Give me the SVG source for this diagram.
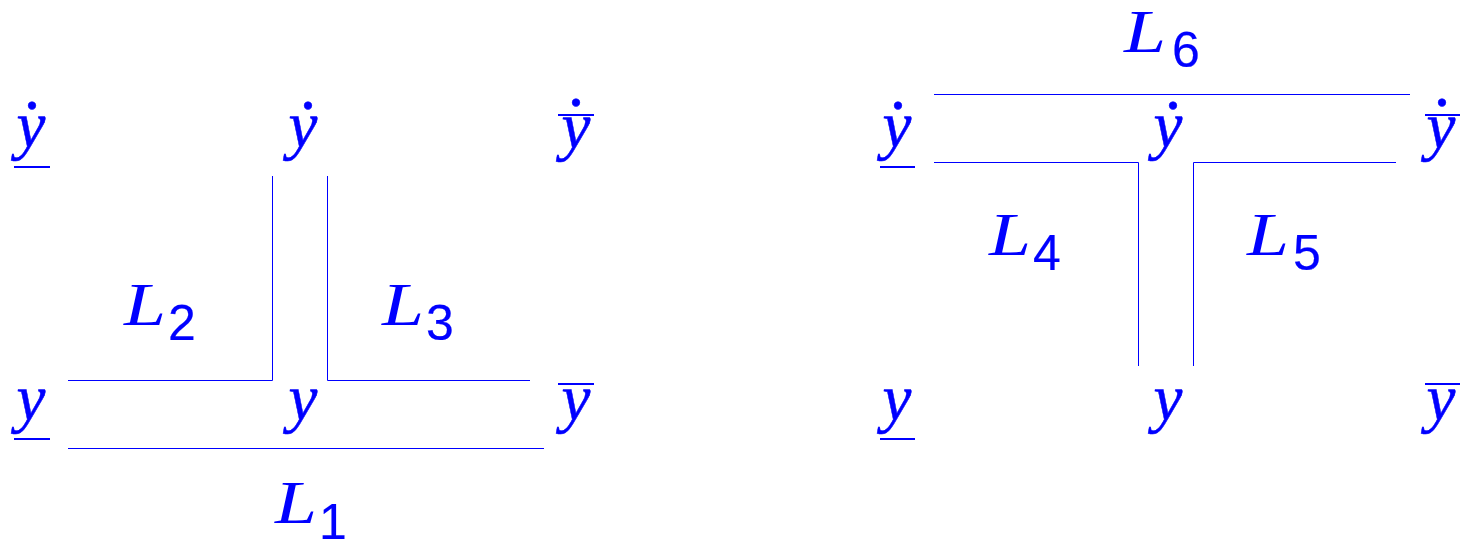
<svg xmlns="http://www.w3.org/2000/svg" width="1461" height="543" viewBox="0 0 1461 543">
<style>
.v{font-family:"Liberation Serif",serif;font-style:italic;font-size:65px;fill:#0000ff;stroke:#0000ff;stroke-width:0.5;text-anchor:middle}
.dd{font-style:normal;font-size:66px;stroke-width:0.5}
.L{font-family:"Liberation Serif",serif;font-style:italic;font-size:61px;fill:#0000ff}
.n{font-family:"Liberation Sans",sans-serif;font-size:50px;fill:#0000ff;stroke:#0000ff;stroke-width:0.2}
.r{stroke:#0000ff;stroke-width:2.2}
.c{stroke:#0000ff;stroke-width:1;fill:none}
</style>
<rect width="1461" height="543" fill="#ffffff"/>
<g id="connectors">
<polyline class="c" points="68,380.5 272.5,380.5 272.5,176"/>
<polyline class="c" points="327.5,176 327.5,380.5 530,380.5"/>
<line class="c" x1="68" y1="448.5" x2="544" y2="448.5"/>
<line class="c" x1="934" y1="94.5" x2="1410" y2="94.5"/>
<polyline class="c" points="934,162.5 1138.5,162.5 1138.5,366"/>
<polyline class="c" points="1193.5,366 1193.5,162.5 1396,162.5"/>
</g>
<g id="n-left-ydot-under"><text class="v" x="31" y="147">y<tspan class="dd" x="32" y="109">.</tspan></text><line class="r" x1="14" y1="167" x2="50" y2="167"/></g>
<g id="n-left-ydot"><text class="v" x="303" y="147">y<tspan class="dd" x="308" y="109">.</tspan></text></g>
<g id="n-left-ydot-over"><text class="v" x="576" y="148">y<tspan class="dd" x="576" y="106">.</tspan></text><line class="r" x1="558" y1="115" x2="594" y2="115"/></g>
<g id="n-left-y-under"><text class="v" x="31" y="420">y</text><line class="r" x1="14" y1="439" x2="50" y2="439"/></g>
<g id="n-left-y"><text class="v" x="303" y="420">y</text></g>
<g id="n-left-y-over"><text class="v" x="576" y="420">y</text><line class="r" x1="558" y1="384" x2="594" y2="384"/></g>
<g id="n-right-ydot-under"><text class="v" x="897" y="147">y<tspan class="dd" x="898" y="109">.</tspan></text><line class="r" x1="880" y1="167" x2="915" y2="167"/></g>
<g id="n-right-ydot"><text class="v" x="1168" y="147">y<tspan class="dd" x="1173" y="109">.</tspan></text></g>
<g id="n-right-ydot-over"><text class="v" x="1441" y="148">y<tspan class="dd" x="1442" y="106">.</tspan></text><line class="r" x1="1425" y1="115" x2="1460" y2="115"/></g>
<g id="n-right-y-under"><text class="v" x="897" y="420">y</text><line class="r" x1="880" y1="439" x2="915" y2="439"/></g>
<g id="n-right-y"><text class="v" x="1168" y="420">y</text></g>
<g id="n-right-y-over"><text class="v" x="1441" y="420">y</text><line class="r" x1="1425" y1="384" x2="1460" y2="384"/></g>
<g id="label-L1"><text class="L" x="275" y="523" textLength="42" lengthAdjust="spacingAndGlyphs">L</text><text class="n" x="319" y="539">1</text></g>
<g id="label-L2"><text class="L" x="124" y="325" textLength="42" lengthAdjust="spacingAndGlyphs">L</text><text class="n" x="168" y="340">2</text></g>
<g id="label-L3"><text class="L" x="382" y="325" textLength="42" lengthAdjust="spacingAndGlyphs">L</text><text class="n" x="426" y="340">3</text></g>
<g id="label-L4"><text class="L" x="989" y="255" textLength="42" lengthAdjust="spacingAndGlyphs">L</text><text class="n" x="1033" y="270">4</text></g>
<g id="label-L5"><text class="L" x="1247" y="255" textLength="42" lengthAdjust="spacingAndGlyphs">L</text><text class="n" x="1293" y="270">5</text></g>
<g id="label-L6"><text class="L" x="1124" y="52" textLength="42" lengthAdjust="spacingAndGlyphs">L</text><text class="n" x="1172" y="67">6</text></g>
</svg>
